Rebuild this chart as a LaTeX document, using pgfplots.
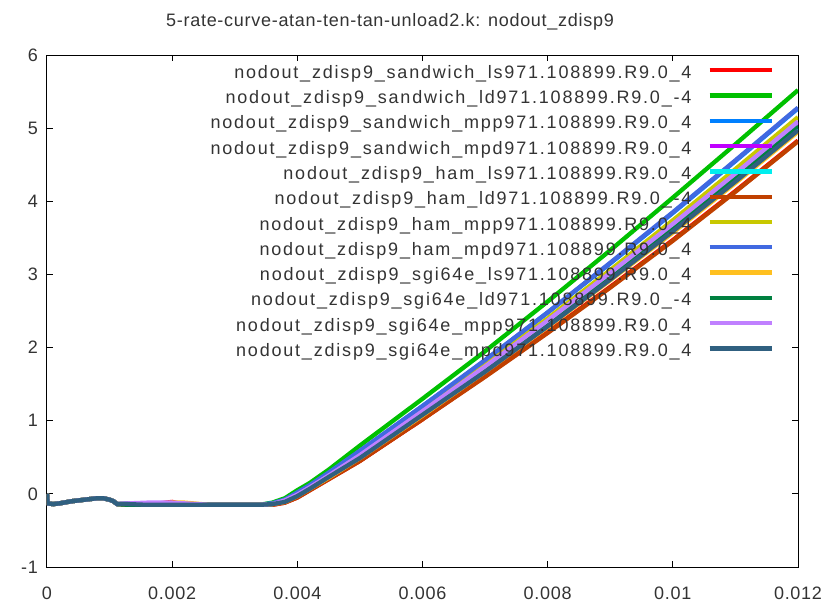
\documentclass[border=0pt]{standalone}
\usepackage{fontspec}
\setmainfont{Liberation Sans}[LetterSpace=4]
\newfontfamily\legfont{Liberation Sans}[LetterSpace=10]
\usepackage{pgfplots}
\usepackage{pgfplotstable}
\pgfplotsset{compat=1.18}

\definecolor{c1}{HTML}{FF0000}
\definecolor{c2}{HTML}{00C000}
\definecolor{c3}{HTML}{0080FF}
\definecolor{c4}{HTML}{C000FF}
\definecolor{c5}{HTML}{00EEEE}
\definecolor{c6}{HTML}{C04000}
\definecolor{c7}{HTML}{C8C800}
\definecolor{c8}{HTML}{4169E1}
\definecolor{c9}{HTML}{FFC020}
\definecolor{c10}{HTML}{008040}
\definecolor{c11}{HTML}{C080FF}
\definecolor{c12}{HTML}{306080}
\definecolor{txt}{HTML}{333333}

% s = sandwich, h = ham, g = sgi64e ; l/d = ls/ld, mp/md = mpp/mpd
\pgfplotstableread{
x        sl     sd     smp    smd    hls    hld    hmp    hmd    gls    gld    gmp    gmd
0        0      0      0      0      0      0      0      0      0      0      0      0
0.00001  -0.13  -0.13  -0.13  -0.13  -0.13  -0.13  -0.13  -0.13  -0.13  -0.13  -0.13  -0.13
0.0001   -0.14  -0.14  -0.14  -0.14  -0.14  -0.14  -0.14  -0.14  -0.14  -0.14  -0.14  -0.14
0.0002   -0.13  -0.13  -0.13  -0.13  -0.13  -0.13  -0.13  -0.13  -0.13  -0.13  -0.13  -0.13
0.0004   -0.10  -0.10  -0.10  -0.10  -0.10  -0.10  -0.10  -0.10  -0.10  -0.10  -0.10  -0.10
0.0006   -0.08  -0.08  -0.08  -0.08  -0.08  -0.08  -0.08  -0.08  -0.08  -0.08  -0.08  -0.08
0.0008   -0.06  -0.06  -0.06  -0.06  -0.06  -0.06  -0.06  -0.06  -0.06  -0.06  -0.06  -0.06
0.0009   -0.06  -0.06  -0.06  -0.06  -0.06  -0.06  -0.06  -0.06  -0.06  -0.06  -0.06  -0.06
0.001    -0.08  -0.08  -0.08  -0.08  -0.08  -0.08  -0.08  -0.08  -0.08  -0.08  -0.08  -0.08
0.00106  -0.10  -0.10  -0.10  -0.10  -0.10  -0.10  -0.10  -0.10  -0.10  -0.10  -0.10  -0.10
0.00112  -0.14  -0.14  -0.14  -0.14  -0.14  -0.14  -0.14  -0.14  -0.14  -0.14  -0.14  -0.14
0.0013   -0.14  -0.15  -0.13  -0.14  -0.14  -0.15  -0.14  -0.14  -0.14  -0.15  -0.13  -0.14
0.0016   -0.15  -0.15  -0.13  -0.15  -0.15  -0.15  -0.15  -0.15  -0.15  -0.15  -0.12  -0.15
0.002    -0.11  -0.15  -0.15  -0.15  -0.15  -0.15  -0.14  -0.15  -0.12  -0.15  -0.12  -0.15
0.0022   -0.15  -0.15  -0.15  -0.15  -0.15  -0.15  -0.15  -0.15  -0.12  -0.15  -0.13  -0.15
0.0026   -0.15  -0.15  -0.15  -0.15  -0.15  -0.15  -0.15  -0.15  -0.15  -0.15  -0.15  -0.15
0.003    -0.15  -0.15  -0.15  -0.15  -0.15  -0.15  -0.15  -0.15  -0.15  -0.15  -0.15  -0.15
0.0034   -0.15  -0.15  -0.15  -0.15  -0.15  -0.15  -0.15  -0.15  -0.15  -0.15  -0.15  -0.15
0.0036   -0.15  -0.12  -0.13  -0.14  -0.14  -0.15  -0.14  -0.13  -0.14  -0.14  -0.14  -0.14
0.0038   -0.12  -0.06  -0.08  -0.09  -0.10  -0.12  -0.09  -0.08  -0.11  -0.10  -0.09  -0.11
0.004    -0.05  0.05   0.01   -0.01  -0.02  -0.05  0.00   0.02   -0.03  -0.02  -0.01  -0.03
0.0042   0.05   0.15   0.11   0.09   0.08   0.05   0.10   0.12   0.07   0.08   0.09   0.07
0.0045   0.20   0.33   0.28   0.25   0.23   0.20   0.26   0.29   0.22   0.24   0.25   0.23
0.005    0.45   0.66   0.58   0.53   0.50   0.45   0.55   0.59   0.49   0.51   0.53   0.49
0.006    1.02   1.30   1.20   1.12   1.09   1.02   1.15   1.20   1.07   1.10   1.13   1.08
0.007    1.61   1.95   1.82   1.73   1.69   1.60   1.76   1.83   1.67   1.71   1.74   1.67
0.008    2.21   2.63   2.48   2.36   2.31   2.20   2.40   2.48   2.28   2.33   2.37   2.29
0.009    2.83   3.33   3.15   3.01   2.95   2.82   3.06   3.16   2.92   2.97   3.02   2.93
0.010    3.47   4.05   3.84   3.68   3.61   3.46   3.74   3.85   3.57   3.64   3.69   3.59
0.011    4.14   4.78   4.55   4.37   4.30   4.13   4.44   4.56   4.25   4.33   4.38   4.27
0.012    4.83   5.52   5.27   5.08   5.00   4.82   5.15   5.28   4.95   5.03   5.09   4.97
}\zdisp

\begin{document}
\begin{tikzpicture}[font=\fontsize{18bp}{21bp}\selectfont, color=txt]
\useasboundingbox (0,0) rectangle (828bp,606bp);
\begin{axis}[
    at={(47bp,39bp)}, anchor=south west,
    scale only axis,
    width=751bp, height=512bp,
    xmin=0, xmax=0.012,
    ymin=-1, ymax=6,
    xtick={0,0.002,0.004,0.006,0.008,0.010,0.012},
    xticklabels={0,0.002,0.004,0.006,0.008,0.01,0.012},
    ytick={-1,0,1,2,3,4,5,6},
    yticklabels={-1,0,1,2,3,4,5,6},
    scaled x ticks=false,
    tick align=inside,
    major tick length=6bp,
    axis line style={black, line width=1bp},
    every tick/.style={black, line width=1bp},
    xticklabel style={inner sep=0pt, yshift=-20bp, text=txt},
    yticklabel style={inner sep=0pt, xshift=-9bp, text=txt},
    legend cell align=right,
    legend plot pos=right,
    legend image code/.code={\draw[#1] (0bp,4.7bp) -- (62bp,4.7bp);},
    legend style={draw=none, fill=none, at={(0.968,0.9863)}, anchor=north east,
        inner sep=0pt, row sep=0pt, column sep=16bp, text=txt,
        font=\legfont\fontsize{18bp}{21bp}\selectfont,
        nodes={inner sep=0pt, text height=16bp, text depth=9.3bp}},
    every axis plot/.append style={line width=4.3bp},
]
\addplot[c1]  table[x=x, y=sl]  {\zdisp};
\addlegendentry{nodout\_zdisp9\_sandwich\_ls971.108899.R9.0\_4}
\addplot[c2]  table[x=x, y=sd]  {\zdisp};
\addlegendentry{nodout\_zdisp9\_sandwich\_ld971.108899.R9.0\_-4}
\addplot[c3]  table[x=x, y=smp] {\zdisp};
\addlegendentry{nodout\_zdisp9\_sandwich\_mpp971.108899.R9.0\_4}
\addplot[c4]  table[x=x, y=smd] {\zdisp};
\addlegendentry{nodout\_zdisp9\_sandwich\_mpd971.108899.R9.0\_4}
\addplot[c5]  table[x=x, y=hls] {\zdisp};
\addlegendentry{nodout\_zdisp9\_ham\_ls971.108899.R9.0\_4}
\addplot[c6]  table[x=x, y=hld] {\zdisp};
\addlegendentry{nodout\_zdisp9\_ham\_ld971.108899.R9.0\_-4}
\addplot[c7]  table[x=x, y=hmp] {\zdisp};
\addlegendentry{nodout\_zdisp9\_ham\_mpp971.108899.R9.0\_4}
\addplot[c8]  table[x=x, y=hmd] {\zdisp};
\addlegendentry{nodout\_zdisp9\_ham\_mpd971.108899.R9.0\_4}
\addplot[c9]  table[x=x, y=gls] {\zdisp};
\addlegendentry{nodout\_zdisp9\_sgi64e\_ls971.108899.R9.0\_4}
\addplot[c10] table[x=x, y=gld] {\zdisp};
\addlegendentry{nodout\_zdisp9\_sgi64e\_ld971.108899.R9.0\_-4}
\addplot[c11] table[x=x, y=gmp] {\zdisp};
\addlegendentry{nodout\_zdisp9\_sgi64e\_mpp971.108899.R9.0\_4}
\addplot[c12] table[x=x, y=gmd] {\zdisp};
\addlegendentry{nodout\_zdisp9\_sgi64e\_mpd971.108899.R9.0\_4}
\end{axis}
\node[anchor=base, inner sep=0pt, text=txt] at (390bp,579bp)
    {5-rate-curve-atan-ten-tan-unload2.k: nodout\_zdisp9};
\end{tikzpicture}
\end{document}
